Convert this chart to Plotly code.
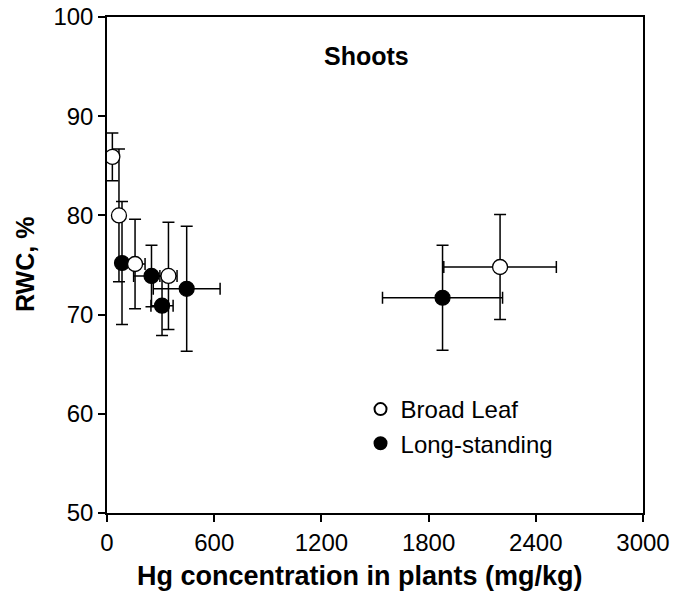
import plotly.graph_objects as go

# Broad Leaf (open circles)
bl_x = [30, 67, 157, 344, 2200]
bl_y = [85.9, 80.0, 75.1, 73.9, 74.8]
bl_xerr = [0, 0, 56, 48, 315]
bl_yerr = [2.4, 6.7, 4.5, 5.4, 5.3]

# Long-standing (filled circles)
ls_x = [84, 249, 308, 446, 1878]
ls_y = [75.2, 73.9, 70.9, 72.6, 71.7]
ls_xerr = [0, 100, 62, 187, 336]
ls_yerr = [6.2, 3.1, 3.0, 6.3, 5.3]

x_ticks = [0, 600, 1200, 1800, 2400, 3000]
y_ticks = [50, 60, 70, 80, 90, 100]

FONT = "Liberation Sans, Arial, sans-serif"

def err(arr):
    return dict(type="data", array=arr, symmetric=True, color="black",
                thickness=1.5, width=6, visible=True)

fig = go.Figure()
fig.add_trace(go.Scatter(
    x=ls_x, y=ls_y, mode="markers", name="Long-standing",
    marker=dict(symbol="circle", size=15, color="black",
                line=dict(color="black", width=1.2)),
    error_x=err(ls_xerr), error_y=err(ls_yerr), legendrank=2))
fig.add_trace(go.Scatter(
    x=bl_x, y=bl_y, mode="markers", name="Broad Leaf",
    marker=dict(symbol="circle", size=15, color="white",
                line=dict(color="black", width=1.3)),
    error_x=err(bl_xerr), error_y=err(bl_yerr), legendrank=1))

axis_common = dict(showline=True, linecolor="black", linewidth=1.5, mirror=True,
                   ticks="outside", ticklen=7, tickwidth=1.5, tickcolor="black",
                   showgrid=False, zeroline=False, automargin=False,
                   tickfont=dict(family=FONT, size=24, color="black"))

fig.update_layout(
    width=674, height=598,
    margin=dict(l=107, r=31, t=17, b=85),
    paper_bgcolor="white", plot_bgcolor="white",
    font=dict(family=FONT, color="black"),
    xaxis=dict(range=[0, 3000], tickvals=x_ticks, ticktext=[str(v) for v in x_ticks],
               **axis_common),
    yaxis=dict(range=[50, 100], tickvals=y_ticks, ticktext=[str(v) for v in y_ticks],
               **axis_common),
    showlegend=True,
    legend=dict(x=0.473, y=0.254, xanchor="left", yanchor="top",
                bgcolor="rgba(0,0,0,0)", borderwidth=0, itemsizing="constant",
                font=dict(family=FONT, size=24, color="black")),
    annotations=[
        dict(text="Shoots", xref="paper", yref="paper", x=0.484, y=0.922,
             xanchor="center", yanchor="middle", showarrow=False,
             font=dict(family=FONT, size=25, color="black", weight="bold")),
        dict(text="Hg concentration in plants (mg/kg)", xref="paper", yref="paper",
             x=0.5, y=0, yshift=-63, xshift=-15, xanchor="center", yanchor="middle",
             showarrow=False,
             font=dict(family=FONT, size=27, color="black", weight="bold")),
        dict(text="RWC, %", xref="paper", yref="paper", x=0, y=0.5,
             xshift=-82, xanchor="center", yanchor="middle", textangle=-90,
             showarrow=False,
             font=dict(family=FONT, size=25, color="black", weight="bold")),
    ],
)

fig.write_html("out.html")
